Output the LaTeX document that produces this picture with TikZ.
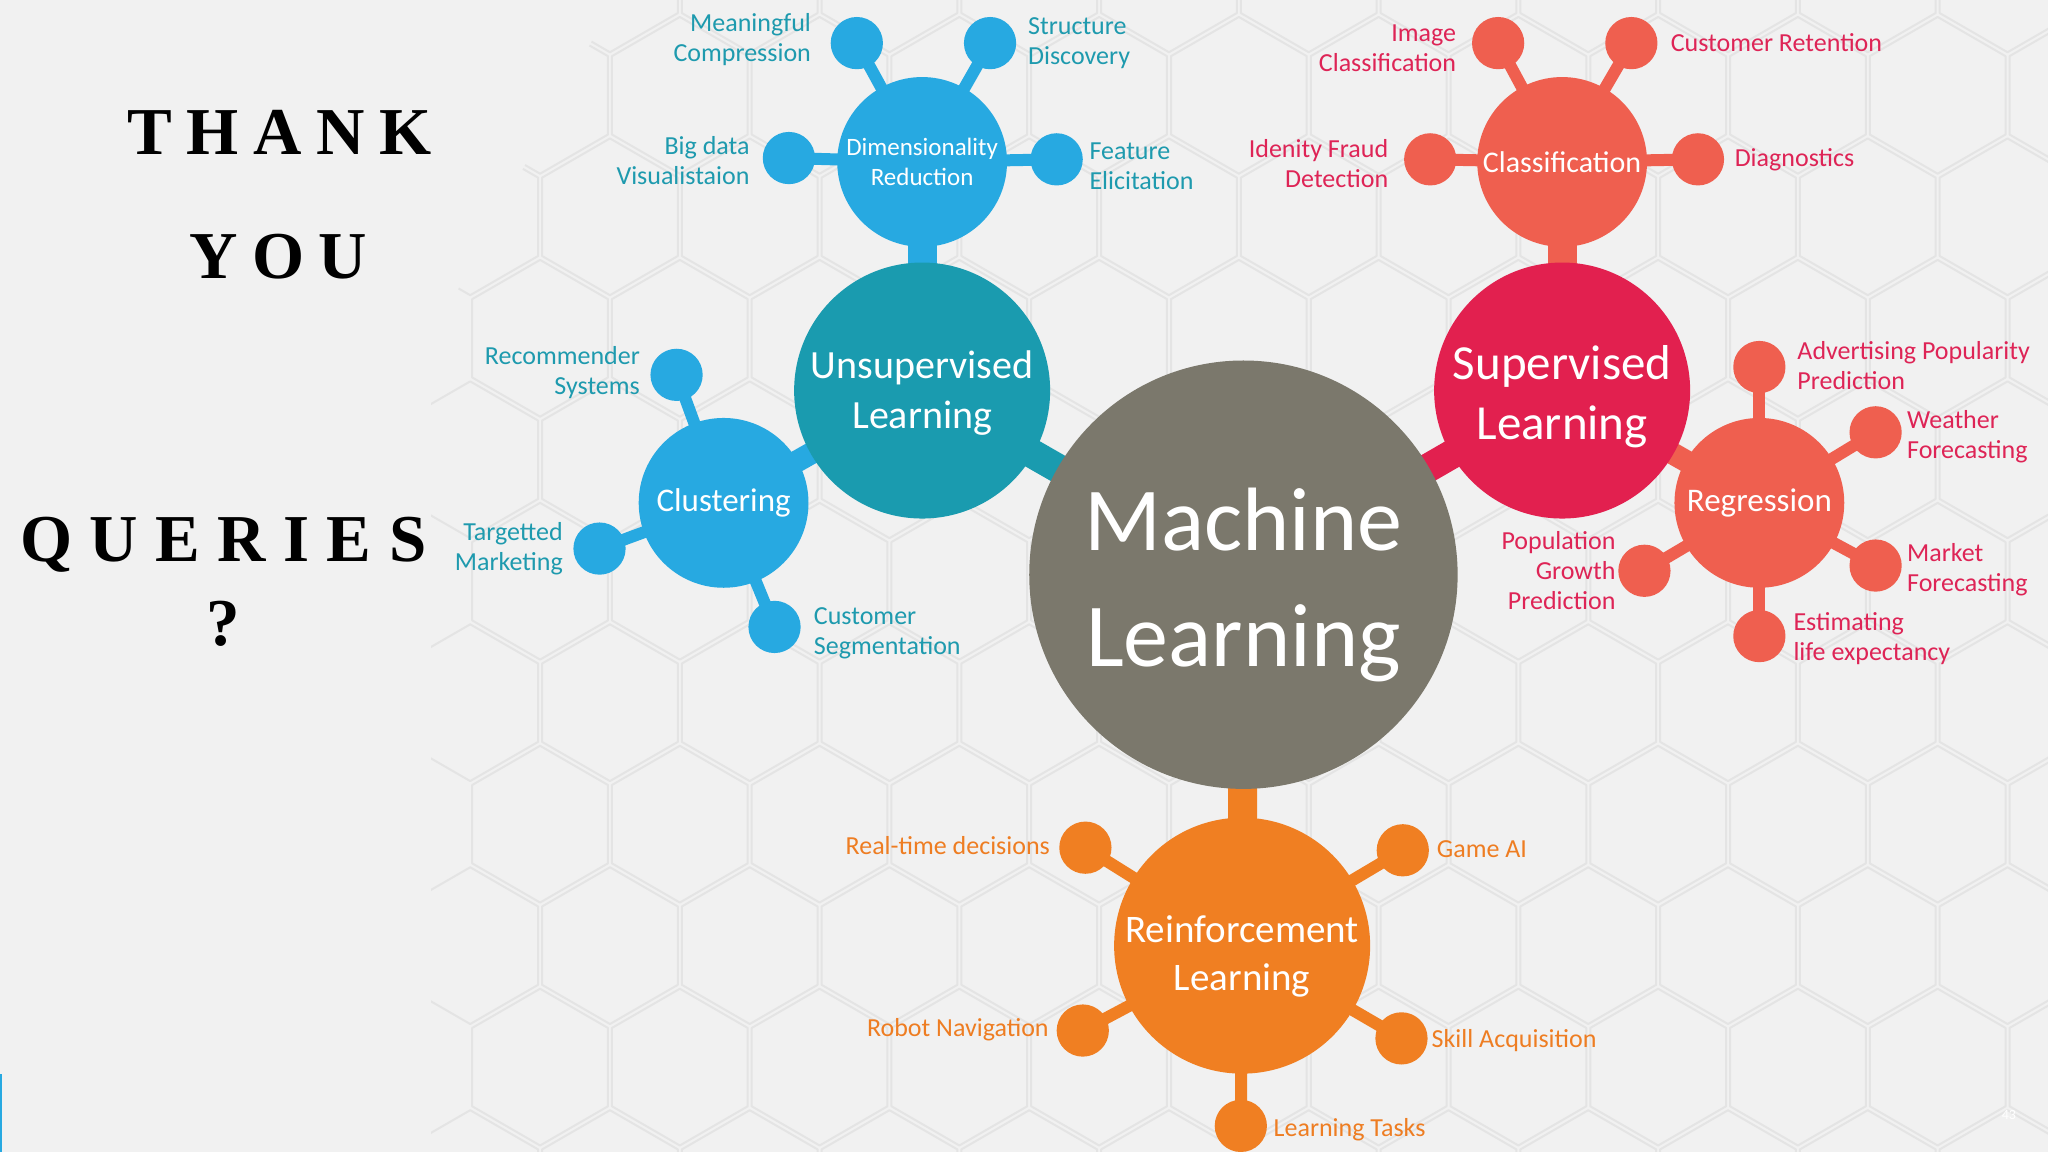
\documentclass[tikz,border=0pt]{standalone}
\usepackage{fontspec}
\setmainfont{Carlito}
\newfontfamily\titlefont[LetterSpace=22]{Liberation Serif}
\definecolor{bgcol}{HTML}{F1F1F1}
\definecolor{hexcol}{HTML}{E4E4E4}
\definecolor{mlgray}{HTML}{7B786C}
\definecolor{ulteal}{HTML}{1A9BAF}
\definecolor{skyblue}{HTML}{27A9E1}
\definecolor{slred}{HTML}{E2204F}
\definecolor{coral}{HTML}{EF5F4F}
\definecolor{rlorange}{HTML}{F07F22}
\definecolor{tealtxt}{HTML}{1E9AAE}
\definecolor{redtxt}{HTML}{DE2456}
\definecolor{orangetxt}{HTML}{EE7D22}
\pgfdeclarelayer{bg}
\pgfdeclarelayer{links}
\pgfsetlayers{bg,links,main}
\tikzset{
  hub/.style={circle, inner sep=0pt, minimum size=196*1.3061pt},
  sub/.style={circle, inner sep=0pt, minimum size=130*1.3061pt, text=white, align=center},
  leaf/.style={circle, inner sep=0pt, minimum size=40*1.3061pt},
  lbl/.style={inner sep=0pt, font=\fontsize{26}{30}\selectfont},
  spoke/.style={line width=12pt},
  bar/.style={line width=29pt},
  title/.style={inner sep=0pt, anchor=base, font=\titlefont\bfseries\fontsize{67}{80}\selectfont}
}
\begin{document}
\begin{tikzpicture}[x=1.3061pt, y=-1.3061pt]
\useasboundingbox (0,0) rectangle (1568,882);
\begin{pgfonlayer}{bg}
\fill[bgcol] (0,0) rectangle (1568,882);
% hexagon backdrop
\begin{scope}
\clip (470,0) -- (1568,0) -- (1568,882) -- (330,882) -- (330,260) -- cycle;
\foreach \j in {0,...,10}
  \foreach \i in {0,...,12} {
    \pgfmathsetmacro{\cx}{360 + \i*107 + mod(\j,2)*53.5}
    \pgfmathsetmacro{\cy}{\j*93 - 20}
    \draw[hexcol, line width=2pt, line join=round] (\cx,\cy) +(90:60) -- +(150:60) -- +(210:60) -- +(270:60) -- +(330:60) -- +(30:60) -- cycle;
  }
\end{scope}
\fill[skyblue] (0,822) rectangle (1.5,882);
\end{pgfonlayer}

% title text
\node[title] (thank) at (214,118) {THANK};
\node[title] (you) at (213,213) {YOU};
\node[title] (queries) at (171,430) {\addfontfeature{LetterSpace=26}QUERIES};
\node[title] (qmark) at (171,494) {?};

% main circles
\node[circle, inner sep=0pt, minimum size=328*1.3061pt, fill=mlgray] (ml) at (952,440) {};
\node[text=white, align=center, font=\fontsize{90}{116}\selectfont] (mlt) at (952,448) {Machine\\Learning};
\node[hub, fill=ulteal] (ul) at (706,299) {};
\node[hub, fill=slred] (sl) at (1196,299) {};
\node[hub, fill=rlorange] (rl) at (951,724) {};
\node[font=\fontsize{40}{50}\selectfont, text=white, align=center] (ult) at (706,301) {Unsupervised\\Learning};
\node[font=\fontsize{49}{60}\selectfont, text=white, align=center] (slt) at (1196,304) {Supervised\\Learning};
\node[font=\fontsize{39}{48}\selectfont, text=white, align=center] (rlt) at (951,732) {Reinforcement\\Learning};

\node[sub, fill=skyblue, font=\fontsize{25}{30}\selectfont] (dr) at (706,124) {Dimensionality\\Reduction};
\node[sub, fill=skyblue, font=\fontsize{33}{40}\selectfont] (cl) at (554,385) {Clustering};
\node[sub, fill=coral, font=\fontsize{30}{36}\selectfont] (cf) at (1196,124) {Classification};
\node[sub, fill=coral, font=\fontsize{33}{40}\selectfont] (rg) at (1347,385) {Regression};

% leaves
\node[leaf, fill=skyblue] (mc) at (656,33) {};
\node[leaf, fill=skyblue] (sd) at (758,33) {};
\node[leaf, fill=skyblue] (bd) at (604,121) {};
\node[leaf, fill=skyblue] (fe) at (809,122) {};
\node[leaf, fill=skyblue] (rs) at (518,287) {};
\node[leaf, fill=skyblue] (tm) at (459,420) {};
\node[leaf, fill=skyblue] (cs) at (593,480) {};
\node[leaf, fill=coral] (ic) at (1147,33) {};
\node[leaf, fill=coral] (cr) at (1249,33) {};
\node[leaf, fill=coral] (id) at (1095,122) {};
\node[leaf, fill=coral] (dg) at (1300,122) {};
\node[leaf, fill=coral] (ap) at (1347,281) {};
\node[leaf, fill=coral] (wf) at (1436,331) {};
\node[leaf, fill=coral] (mf) at (1436,433) {};
\node[leaf, fill=coral] (el) at (1347,487) {};
\node[leaf, fill=coral] (pg) at (1259,437) {};
\node[leaf, fill=rlorange] (rt) at (831,649) {};
\node[leaf, fill=rlorange] (ga) at (1074,651) {};
\node[leaf, fill=rlorange] (rn) at (829,789) {};
\node[leaf, fill=rlorange] (sa) at (1073,795) {};
\node[leaf, fill=rlorange] (lt) at (950,862) {};

% labels
\node[lbl, text=tealtxt, anchor=east, align=right] (mcl) at (621,30) {Meaningful\\Compression};
\node[lbl, text=tealtxt, anchor=west, align=left] (sdl) at (787,33) {Structure\\Discovery};
\node[lbl, text=tealtxt, anchor=east, align=right] (bdl) at (574,123) {Big data\\Visualistaion};
\node[lbl, text=tealtxt, anchor=west, align=left] (fel) at (834,127) {Feature\\Elicitation};
\node[lbl, text=tealtxt, anchor=east, align=right] (rsl) at (490,285) {Recommender\\Systems};
\node[lbl, text=tealtxt, anchor=east, align=right] (tml) at (431,420) {Targetted\\Marketing};
\node[lbl, text=tealtxt, anchor=west, align=left] (csl) at (623,485) {Customer\\Segmentation};
\node[lbl, text=redtxt, anchor=east, align=right] (icl) at (1115,37) {Image\\Classification};
\node[lbl, text=redtxt, anchor=west] (crl) at (1279,33) {Customer Retention};
\node[lbl, text=redtxt, anchor=east, align=right] (idl) at (1063,125) {Idenity Fraud\\Detection};
\node[lbl, text=redtxt, anchor=west] (dgl) at (1328,122) {Diagnostics};
\node[lbl, text=redtxt, anchor=west, align=left] (apl) at (1376,280) {Advertising Popularity\\Prediction};
\node[lbl, text=redtxt, anchor=west, align=left] (wfl) at (1460,334) {Weather\\Forecasting};
\node[lbl, text=redtxt, anchor=west, align=left] (mfl) at (1460,436) {Market\\Forecasting};
\node[lbl, text=redtxt, anchor=west, align=left] (ell) at (1373,489) {Estimating\\life expectancy};
\node[lbl, text=redtxt, anchor=east, align=right] (pgl) at (1237,437) {Population\\Growth\\Prediction};
\node[lbl, text=orangetxt, anchor=east] (rtl) at (804,647) {Real-time decisions};
\node[lbl, text=orangetxt, anchor=west] (gal) at (1100,650) {Game AI};
\node[lbl, text=orangetxt, anchor=east] (rnl) at (803,788) {Robot Navigation};
\node[lbl, text=orangetxt, anchor=west] (sal) at (1096,797) {Skill Acquisition};
\node[lbl, text=orangetxt, anchor=west] (ltl) at (975,865) {Learning Tasks};
\node[inner sep=0pt, text=white, font=\fontsize{14}{16}\selectfont] (pnum) at (1538,854) {43};

% connectors
\begin{pgfonlayer}{links}
\draw[bar, ulteal] (ul.center) -- (ml.center);
\draw[bar, slred] (sl.center) -- (ml.center);
\draw[bar, rlorange] (rl.center) -- (ml.center);
\draw[bar, skyblue] (dr.center) -- (ul.center);
\draw[bar, skyblue, line width=22pt] (cl.center) -- (ul.center);
\draw[bar, coral] (cf.center) -- (sl.center);
\draw[bar, coral, line width=22pt] (rg.center) -- (sl.center);
\foreach \a in {mc,sd,bd,fe} \draw[spoke, skyblue] (\a.center) -- (dr.center);
\foreach \a in {rs,tm,cs} \draw[spoke, skyblue] (\a.center) -- (cl.center);
\foreach \a in {ic,cr,id,dg} \draw[spoke, coral] (\a.center) -- (cf.center);
\foreach \a in {ap,wf,mf,el,pg} \draw[spoke, coral] (\a.center) -- (rg.center);
\foreach \a in {rt,ga,rn,sa,lt} \draw[spoke, rlorange] (\a.center) -- (rl.center);
\end{pgfonlayer}
\end{tikzpicture}
\end{document}
